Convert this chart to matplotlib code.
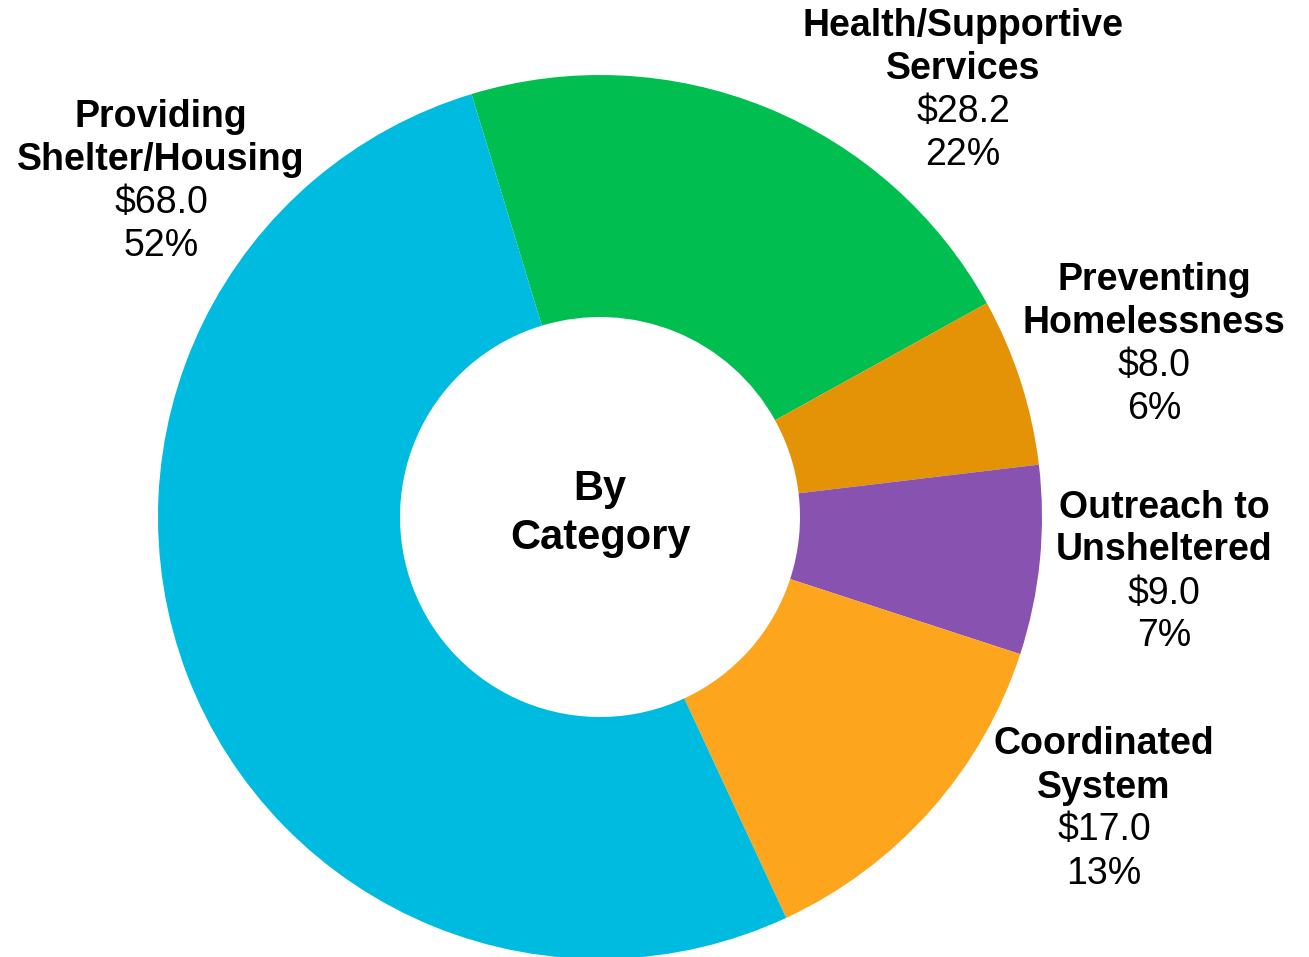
import matplotlib
matplotlib.use("Agg")
import matplotlib.pyplot as plt

categories = ["Health/Supportive\nServices", "Preventing\nHomelessness", "Outreach to\nUnsheltered",
              "Coordinated\nSystem", "Providing\nShelter/Housing"]
values = [28.2, 8.0, 9.0, 17.0, 68.0]
percent_labels = ["22%", "6%", "7%", "13%", "52%"]
colors = ["#00BF50", "#E39305", "#8853B0", "#FDA51D", "#00BBE0"]

# label centres in pixels (layout)
label_pos_px = [(963, 90), (1154, 344), (1164, 572), (1104, 809), (161, 181)]

W, H = 1309, 957
cx, cy, R = 600, 517, 442

plt.rcParams['font.family'] = ['Liberation Sans', 'DejaVu Sans']
fig = plt.figure(figsize=(W / 100, H / 100), dpi=100)
ax = fig.add_axes([0, 0, 1, 1])

ax.pie(values, colors=colors, startangle=106.9, counterclock=False, radius=1.0,
       wedgeprops=dict(width=1 - 200 / R, linewidth=0))

ax.set_xlim(-cx / R, (W - cx) / R)
ax.set_ylim(-(H - cy) / R, cy / R)
ax.set_aspect('equal', adjustable='box')
ax.axis('off')

fs = 27
pitch = 43 / R
for name, val, pct, (px, py) in zip(categories, values, percent_labels, label_pos_px):
    x = (px - cx) / R
    y = (cy - py) / R
    lines = name.split("\n")
    all_lines = [(l, 'bold') for l in lines] + [(f"${val:.1f}", 'normal'), (pct, 'normal')]
    n = len(all_lines)
    for i, (t, w) in enumerate(all_lines):
        yy = y + ((n - 1) / 2 - i) * pitch
        ax.text(x, yy, t, ha='center', va='center', fontsize=fs, fontweight=w, color='black')

ax.text(0, (cy - 489) / R, "By", ha='center', va='center', fontsize=30, fontweight='bold')
ax.text(0, (cy - 538) / R, "Category", ha='center', va='center', fontsize=30, fontweight='bold')

fig.savefig("out.png", dpi=100, facecolor='white')
